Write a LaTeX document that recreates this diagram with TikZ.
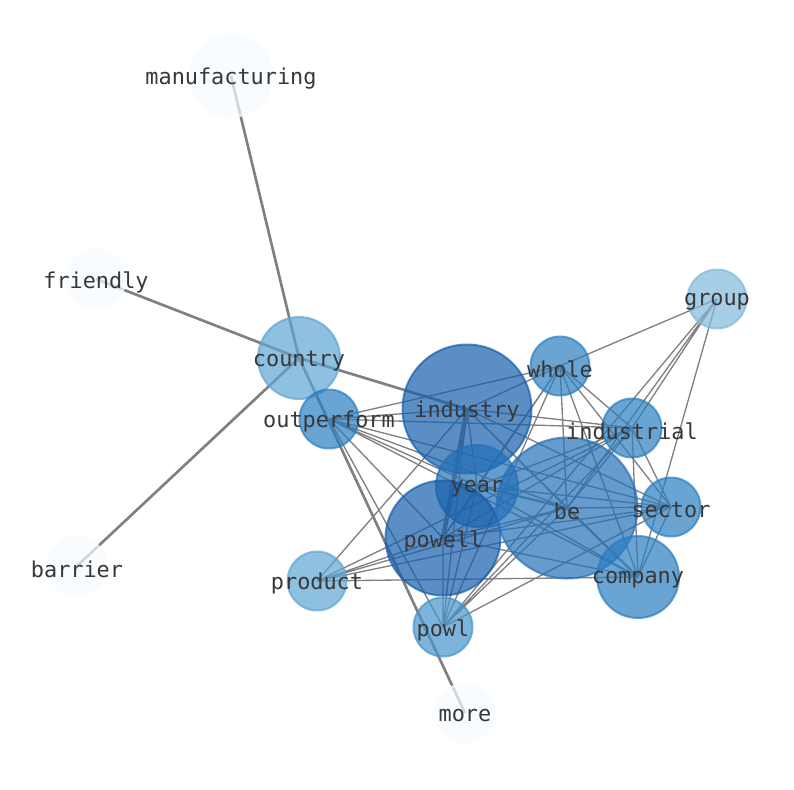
\documentclass[tikz,border=0pt]{standalone}
\usepackage{fontspec}
\setmonofont{DejaVu Sans Mono}
\usepackage{tikz}
\usetikzlibrary{backgrounds}
\usepackage{xcolor}

\definecolor{blue0}{HTML}{F7FBFF}
\definecolor{blue1}{HTML}{80B9DC}
\definecolor{blue2}{HTML}{5EA5D3}
\definecolor{blue3}{HTML}{4594CD}
\definecolor{blue4}{HTML}{2A7EC0}
\definecolor{blue5}{HTML}{2470B8}
\definecolor{blue6}{HTML}{155EAB}
\definecolor{linkgray}{HTML}{808080}

\begin{document}
\begin{tikzpicture}[
  x=0.75pt, y=-0.75pt,
  term/.style={circle, draw=#1, fill=#1, fill opacity=0.7, draw opacity=0.7, line width=1.5pt, inner sep=0pt},
  small/.style={minimum size=44.25pt},
  medium/.style={minimum size=61.5pt},
  large/.style={minimum size=86.25pt},
  huge/.style={minimum size=96.75pt},
  giant/.style={minimum size=105.75pt},
  lbl/.style={font=\ttfamily\fontsize{16.4}{18}\selectfont, text=black!78, inner sep=0pt, yshift=-2.2pt},
  link/.style={draw=linkgray, line width=1pt},
  midlink/.style={draw=linkgray, line width=1.6pt},
  heavylink/.style={draw=linkgray, line width=2pt},
  barlink/.style={draw=linkgray, line width=3.4pt}
]
\useasboundingbox (0,0) rectangle (794,790);

% Word nodes
\node[term=blue0, medium] (manufacturing) at (231,76) {};
\node[term=blue0, small] (friendly) at (96,279) {};
\node[term=blue0, small] (barrier) at (77,566) {};
\node[term=blue0, small] (more) at (465,713) {};
\node[term=blue2, medium] (country) at (299,358) {};
\node[term=blue4, small] (outperform) at (329,419) {};
\node[term=blue6, huge] (industry) at (467,409) {};
\node[term=blue4, small] (whole) at (560,366) {};
\node[term=blue1, small] (group) at (717,299) {};
\node[term=blue4, small] (industrial) at (632,428) {};
\node[term=blue5, medium] (year) at (477,486) {};
\node[term=blue6, large] (powell) at (443,538) {};
\node[term=blue5, giant] (be) at (567,508) {};
\node[term=blue4, small] (sector) at (671,507) {};
\node[term=blue4, medium] (company) at (638,577) {};
\node[term=blue2, small] (product) at (317,581) {};
\node[term=blue3, small] (powl) at (443,627) {};

\begin{pgfonlayer}{background}
% Heavy links around country
\draw[heavylink] (manufacturing.center) -- (country.center);
\draw[heavylink] (friendly.center) -- (country.center);
\draw[heavylink] (barrier.center) -- (country.center);
\draw[heavylink] (country.center) -- (more.center);
\draw[heavylink] (country.center) -- (industry.center);
\draw[barlink] (industry.center) -- (powell.center);
\draw[midlink] (year.center) -- (be.center);
\draw[midlink] (be.center) -- (company.center);

% Thin links in the core
\draw[link] (outperform.center) -- (industry.center) (outperform.center) -- (whole.center)
  (outperform.center) -- (industrial.center) (outperform.center) -- (year.center)
  (outperform.center) -- (be.center) (outperform.center) -- (sector.center)
  (outperform.center) -- (company.center) (outperform.center) -- (powell.center)
  (outperform.center) -- (powl.center);
\draw[link] (product.center) -- (industry.center) (product.center) -- (industrial.center)
  (product.center) -- (powell.center) (product.center) -- (be.center)
  (product.center) -- (sector.center) (product.center) -- (company.center);
\draw[link] (powl.center) -- (powell.center) (powl.center) -- (industry.center)
  (powl.center) -- (year.center) (powl.center) -- (whole.center)
  (powl.center) -- (be.center) (powl.center) -- (sector.center)
  (powl.center) -- (industrial.center);
\draw[link] (whole.center) -- (group.center) (whole.center) -- (industry.center)
  (whole.center) -- (industrial.center) (whole.center) -- (be.center)
  (whole.center) -- (sector.center) (whole.center) -- (company.center)
  (whole.center) -- (year.center) (whole.center) -- (powell.center);
\draw[link] (group.center) -- (industrial.center) (group.center) -- (be.center)
  (group.center) -- (powl.center) (group.center) -- (company.center);
\draw[link] (industry.center) -- (industrial.center) (industry.center) -- (year.center)
  (industry.center) -- (be.center) (industry.center) -- (sector.center)
  (industry.center) -- (company.center);
\draw[link] (industrial.center) -- (year.center) (industrial.center) -- (be.center)
  (industrial.center) -- (sector.center) (industrial.center) -- (company.center)
  (industrial.center) -- (powell.center);
\draw[link] (year.center) -- (sector.center) (year.center) -- (company.center)
  (year.center) -- (powell.center);
\draw[link] (be.center) -- (sector.center) (be.center) -- (powell.center);
\draw[link] (sector.center) -- (company.center) (sector.center) -- (powell.center);
\draw[link] (company.center) -- (powell.center);
\end{pgfonlayer}

% Labels on top
\node[lbl] (manufacturing-t) at (manufacturing) {manufacturing};
\node[lbl] (friendly-t) at (friendly) {friendly};
\node[lbl] (barrier-t) at (barrier) {barrier};
\node[lbl] (more-t) at (more) {more};
\node[lbl] (country-t) at (country) {country};
\node[lbl] (outperform-t) at (outperform) {outperform};
\node[lbl] (industry-t) at (industry) {industry};
\node[lbl] (whole-t) at (whole) {whole};
\node[lbl] (group-t) at (group) {group};
\node[lbl] (industrial-t) at (industrial) {industrial};
\node[lbl] (year-t) at (year) {year};
\node[lbl] (powell-t) at (powell) {powell};
\node[lbl] (be-t) at (be) {be};
\node[lbl] (sector-t) at (sector) {sector};
\node[lbl] (company-t) at (company) {company};
\node[lbl] (product-t) at (product) {product};
\node[lbl] (powl-t) at (powl) {powl};

\end{tikzpicture}
\end{document}
